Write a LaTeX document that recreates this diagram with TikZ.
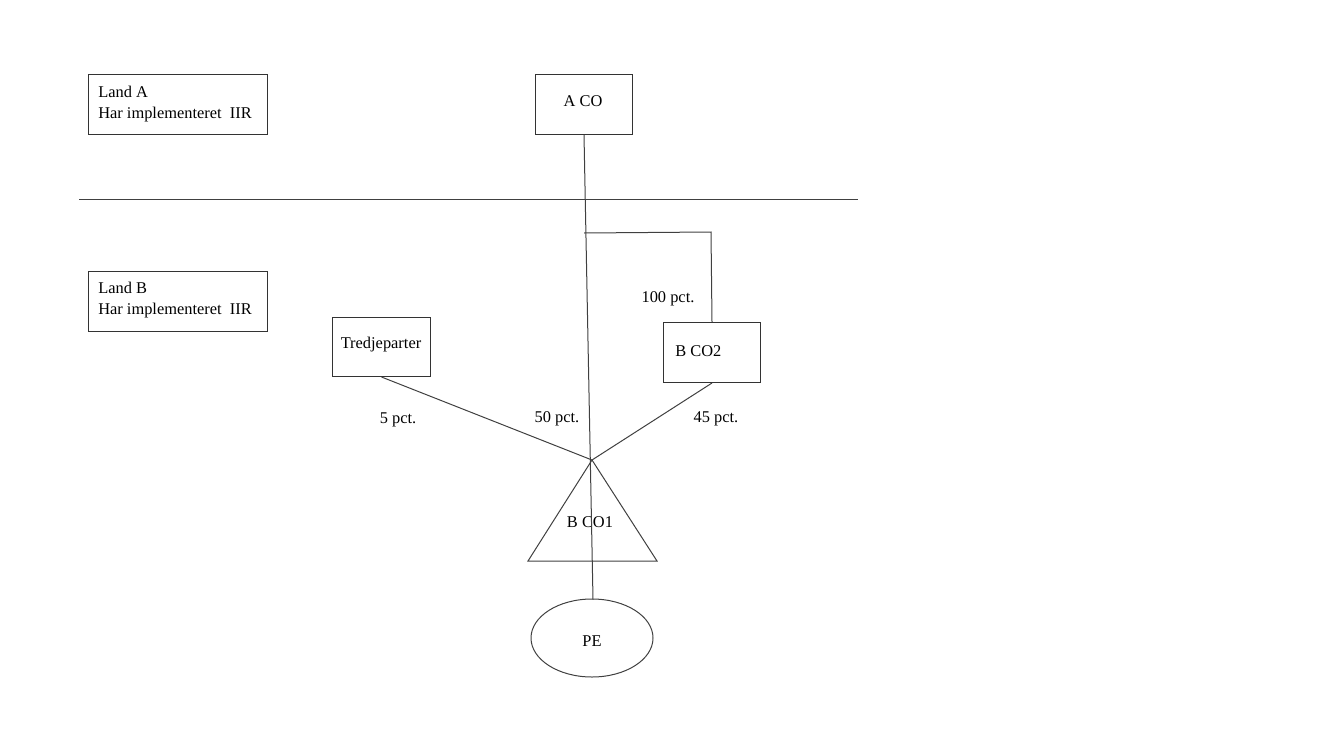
\documentclass[tikz,border=0pt]{standalone}
\usepackage{fontspec}
\setmainfont{Liberation Serif}
\usetikzlibrary{shapes.geometric}
\begin{document}
\begin{tikzpicture}[x=0.75pt,y=-0.75pt,
  every node/.style={font=\fontsize{12.3}{15.5}\selectfont, inner sep=0pt},
  box/.style={draw=black!80, line width=0.75pt, anchor=north west},
  conn/.style={draw=black!75, line width=0.75pt}]
\useasboundingbox (0,0) rectangle (1320,742);
% boxes
\node[box, minimum width=134.25pt, minimum height=45pt] (landAbox) at (88,74) {};
\node[anchor=west, align=left] (landA) at (98,104) {Land A\\Har implementeret\ \ IIR};
\node[box, minimum width=72.75pt, minimum height=45pt] (aco) at (535,74) {};
\node at (583,101) {A CO};
\draw[conn] (79,199) coordinate (hl) -- (858,199) coordinate (hr);
\node[box, minimum width=134.25pt, minimum height=45pt] (landBbox) at (88,271) {};
\node[anchor=west, align=left] (landB) at (98,300) {Land B\\Har implementeret\ \ IIR};
\node[box, minimum width=73.5pt, minimum height=44.25pt] (tred) at (332,317) {};
\node at (381,345) {Tredjeparter};
\node[box, minimum width=72.75pt, minimum height=45pt] (bco2) at (663,322) {};
\node[anchor=west] at (675,351) {B CO2};
% named points
\coordinate (apex) at (592,460);
\coordinate (brl) at (584,233);
\coordinate (brr) at (711,232);
\coordinate (petop) at (593,599.5);
% triangle
\draw[conn] (apex) -- (528,561) -- (657,561) -- cycle;
\node at (590,522) {B CO1};
% ellipse
\node[draw=black!75, line width=0.75pt, ellipse, minimum width=91.5pt, minimum height=58.5pt] (pe) at (592,638) {};
\node at (592,641) {PE};
% connectors
\draw[conn] (aco.south) -- (petop);
\draw[conn] (brl) -- (brr) -- (bco2.north);
\draw[conn] (tred.south) -- (apex);
\draw[conn] (bco2.south) -- (apex);
% labels
\node at (668,299) {100 pct.};
\node at (398,420) {5 pct.};
\node at (557,419) {50 pct.};
\node at (716,419) {45 pct.};
\end{tikzpicture}
\end{document}
